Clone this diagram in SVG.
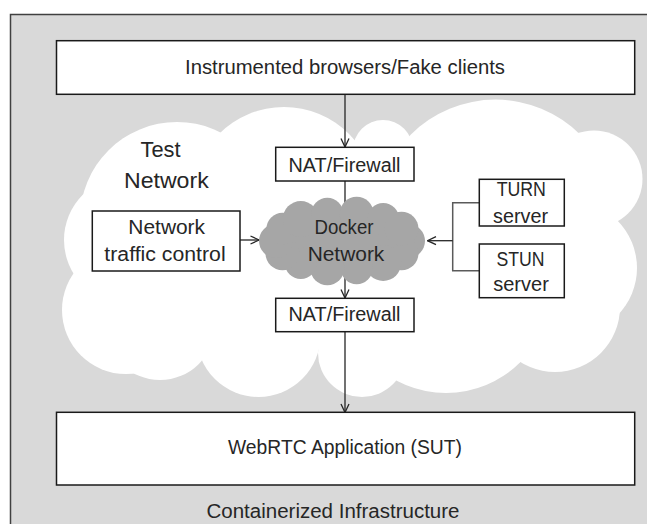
<svg xmlns="http://www.w3.org/2000/svg" width="647" height="524" viewBox="0 0 647 524">
<defs>
<style>
.box{fill:#fff;stroke:#1a1a1a;stroke-width:1.5}
.t{font-family:"Liberation Sans",Arial,sans-serif;font-size:20px;fill:#262626;text-anchor:middle}
.lbl{font-size:22px}
.ln{fill:none;stroke:#262626;stroke-width:1.3}
.br{fill:none;stroke:#5a5a5a;stroke-width:1.5}
.wc{fill:#fff}
.gc{fill:#a6a6a6}
</style>
<marker id="ah" viewBox="0 0 10 10" refX="9.5" refY="5" markerWidth="10" markerHeight="10" markerUnits="userSpaceOnUse" orient="auto">
<path d="M1,1 L9.5,5 L1,9" fill="none" stroke="#262626" stroke-width="1.3"/>
</marker>
</defs>
<rect x="0" y="0" width="647" height="524" fill="#fff"/>
<g id="containerized-infrastructure">
<rect x="10.5" y="14.5" width="700" height="600" fill="#d9d9d9" stroke="#404040" stroke-width="1.5"/>
<text class="t" x="333" y="518" textLength="253" lengthAdjust="spacingAndGlyphs">Containerized Infrastructure</text>
</g>
<g id="test-network">
<ellipse class="wc" cx="345" cy="250" rx="240" ry="100"/>
<circle class="wc" cx="177" cy="219" r="97"/>
<circle class="wc" cx="284" cy="199" r="92"/>
<circle class="wc" cx="383" cy="150" r="30"/>
<circle class="wc" cx="495.5" cy="219.6" r="120"/>
<circle class="wc" cx="594" cy="179" r="48.5"/>
<circle class="wc" cx="570" cy="268" r="67"/>
<circle class="wc" cx="555" cy="307" r="65"/>
<circle class="wc" cx="446" cy="288" r="105"/>
<circle class="wc" cx="362" cy="353" r="44"/>
<circle class="wc" cx="258.5" cy="335" r="62"/>
<circle class="wc" cx="160" cy="325" r="55"/>
<circle class="wc" cx="126" cy="310" r="64"/>
<circle class="wc" cx="128" cy="240" r="64"/>
<text class="t lbl" x="140.5" y="157" style="text-anchor:start" textLength="40" lengthAdjust="spacingAndGlyphs">Test</text>
<text class="t lbl" x="124" y="187.5" style="text-anchor:start" textLength="84.7" lengthAdjust="spacingAndGlyphs">Network</text>
</g>
<g id="connectors">
<line class="ln" x1="345" y1="94.5" x2="345" y2="147" marker-end="url(#ah)"/>
<line class="ln" x1="345" y1="181" x2="345" y2="298" marker-end="url(#ah)"/>
<line class="ln" x1="345" y1="332" x2="345" y2="412.5" marker-end="url(#ah)"/>
<line class="ln" x1="240" y1="240" x2="259" y2="240" marker-end="url(#ah)"/>
<polyline class="br" points="479.3,202.7 452.7,202.7 452.7,270.7 479.3,270.7"/>
<line class="ln" x1="452.7" y1="240.7" x2="427.5" y2="240.7" marker-end="url(#ah)"/>
</g>
<g id="docker-network">
<ellipse class="gc" cx="342" cy="241" rx="68" ry="30"/>
<circle class="gc" cx="408" cy="241" r="17"/>
<circle class="gc" cx="401.5" cy="253.2" r="17"/>
<circle class="gc" cx="383.2" cy="262.9" r="18"/>
<circle class="gc" cx="356.7" cy="268.3" r="16"/>
<circle class="gc" cx="327.3" cy="268.3" r="17"/>
<circle class="gc" cx="300.8" cy="262.9" r="16"/>
<circle class="gc" cx="282.5" cy="253.2" r="17"/>
<circle class="gc" cx="276" cy="241" r="17"/>
<circle class="gc" cx="282.5" cy="228.8" r="16"/>
<circle class="gc" cx="300.8" cy="219.1" r="18"/>
<circle class="gc" cx="327.3" cy="213.7" r="16"/>
<circle class="gc" cx="356.7" cy="213.7" r="17"/>
<circle class="gc" cx="383.2" cy="219.1" r="16"/>
<circle class="gc" cx="401.5" cy="228.8" r="17"/>
<text class="t" x="344" y="234.3" textLength="59" lengthAdjust="spacingAndGlyphs">Docker</text>
<text class="t" x="346" y="261" textLength="76.7" lengthAdjust="spacingAndGlyphs">Network</text>
</g>
<g id="instrumented-browsers">
<rect class="box" x="56.5" y="40.7" width="578.2" height="53.6"/>
<text class="t" x="345" y="74" textLength="320" lengthAdjust="spacingAndGlyphs">Instrumented browsers/Fake clients</text>
</g>
<g id="nat-firewall-top">
<rect class="box" x="275.7" y="147.3" width="138.3" height="33.7"/>
<text class="t" x="344.5" y="172" textLength="112" lengthAdjust="spacingAndGlyphs">NAT/Firewall</text>
</g>
<g id="network-traffic-control">
<rect class="box" x="92.3" y="211" width="147.7" height="60"/>
<text class="t" x="166.7" y="234.3" textLength="76.7" lengthAdjust="spacingAndGlyphs">Network</text>
<text class="t" x="165" y="261" textLength="121.3" lengthAdjust="spacingAndGlyphs">traffic control</text>
</g>
<g id="turn-server">
<rect class="box" x="479.3" y="179.3" width="85" height="46.7"/>
<text class="t" x="521.3" y="196" textLength="49.3" lengthAdjust="spacingAndGlyphs">TURN</text>
<text class="t" x="520.5" y="223" textLength="55" lengthAdjust="spacingAndGlyphs">server</text>
</g>
<g id="stun-server">
<rect class="box" x="479.3" y="244" width="85" height="53.7"/>
<text class="t" x="520.5" y="266" textLength="48" lengthAdjust="spacingAndGlyphs">STUN</text>
<text class="t" x="521" y="290.7" textLength="55.7" lengthAdjust="spacingAndGlyphs">server</text>
</g>
<g id="nat-firewall-bottom">
<rect class="box" x="275.7" y="298.3" width="138.3" height="33.4"/>
<text class="t" x="344.5" y="321" textLength="112" lengthAdjust="spacingAndGlyphs">NAT/Firewall</text>
</g>
<g id="webrtc-application">
<rect class="box" x="56.5" y="412.3" width="578.2" height="72.7"/>
<text class="t" x="345" y="454" textLength="234" lengthAdjust="spacingAndGlyphs">WebRTC Application (SUT)</text>
</g>
</svg>
